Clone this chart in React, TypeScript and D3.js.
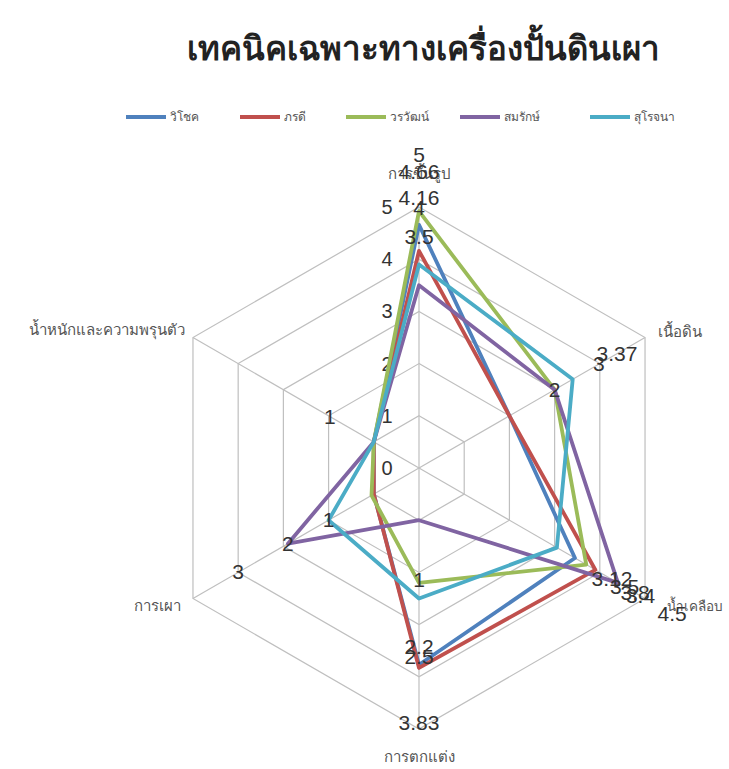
import React from "react";
import * as d3 from "d3";

const title = "เทคนิคเฉพาะทางเครื่องปั้นดินเผา";
const categories = ["การขึ้นรูป", "เนื้อดิน", "น้ำเคลือบ", "การตกแต่ง", "การเผา", "น้ำหนักและความพรุนตัว"];
const seriesNames = ["วิโชค", "ภรดี", "วรวัฒน์", "สมรักษ์", "สุโรจนา"];
const seriesColors = ["#4F81BD", "#C0504D", "#9BBB59", "#8064A2", "#4BACC6"];
const wichok = [4.66, 2, 3.45, 3.77, 1, 1];
const phoradee = [4.16, 2, 3.9, 3.83, 1, 1];
const worawat = [4.92, 3, 3.7, 2.2, 1.05, 1];
const somrak = [3.5, 3, 4.4, 1, 2.9, 1];
const surojana = [3.9, 3.4, 3.05, 2.5, 2, 1];
const seriesValues = [wichok, phoradee, worawat, somrak, surojana];
const tickValues = [0, 1, 2, 3, 4, 5];
// data labels as they appear: [axis index, radial position in value units, text]
const labelAxis = [0, 0, 0, 0, 0, 5, 1, 1, 1, 2, 2, 2, 2, 2, 3, 3, 3, 3, 4, 4, 4];
const labelPos = [6.0, 5.67, 5.17, 4.98, 4.42, 1.97, 4.38, 3.98, 3.0, 4.27, 4.55, 4.78, 4.9, 5.6, 2.15, 3.43, 3.62, 4.88, 2.0, 2.9, 4.0];
const labelText = ["5", "4.66", "4.16", "4", "3.5", "1", "3.37", "3", "2", "3.12", "3.5", "3.8", "3.4", "4.5", "1", "2.2", "2.5", "3.83", "1", "2", "3"];

const W = 729;
const H = 769;
const cx = 419;
const cy = 468;
const R = 261;

export default function App() {
  const r = d3.scaleLinear().domain([0, 5]).range([0, R]);
  const n = categories.length;
  const ang = (i: number) => (i * 2 * Math.PI) / n;
  const pt = (i: number, v: number): [number, number] => [cx + r(v) * Math.sin(ang(i)), cy - r(v) * Math.cos(ang(i))];
  const line = d3.line<[number, number]>().curve(d3.curveLinearClosed);

  const catOffsets: [number, number, string][] = [
    [0, -28, "middle"],
    [13, -1, "start"],
    [22, 12, "start"],
    [0, 33, "middle"],
    [-12, 12, "end"],
    [-8, -3, "end"],
  ];
  const legendX = [126, 240, 346, 460, 590];

  return (
    <svg width={W} height={H} style={{ position: "absolute", left: 0, top: 0, background: "#fff" }}
      fontFamily="'Noto Sans', 'DejaVu Sans', sans-serif">
      <text x={423} y={60} textAnchor="middle" fontSize={33} fontWeight="bold" fill="#222">{title}</text>
      {seriesNames.map((s, k) => (
        <g key={s}>
          <line x1={legendX[k]} x2={legendX[k] + 40} y1={117} y2={117} stroke={seriesColors[k]} strokeWidth={3.8} />
          <text x={legendX[k] + 44} y={121} fontSize={12} fill="#555">{s}</text>
        </g>
      ))}
      {tickValues.slice(1).map((t) => (
        <path key={t} d={line(d3.range(n).map((i) => pt(i, t))) || ""} fill="none" stroke="#BFBFBF" strokeWidth={1.2} />
      ))}
      {d3.range(n).map((i) => {
        const [x, y] = pt(i, 5);
        return <line key={i} x1={cx} y1={cy} x2={x} y2={y} stroke="#BFBFBF" strokeWidth={1.2} />;
      })}
      {tickValues.map((t) => {
        const [x, y] = pt(0, t);
        return <text key={t} x={x - 32} y={y + 7} textAnchor="middle" fontSize={20} fill="#333" fontFamily="'Liberation Sans', sans-serif">{t}</text>;
      })}
      {seriesValues.map((vals, k) => (
        <path key={k} d={line(vals.map((v, i) => pt(i, v))) || ""} fill="none" stroke={seriesColors[k]} strokeWidth={3.8} strokeLinejoin="round" />
      ))}
      {categories.map((c, i) => {
        const [x, y] = pt(i, 5);
        const [dx, dy, anchor] = catOffsets[i];
        return <text key={c} x={x + dx} y={y + dy} textAnchor={anchor as any} fontSize={i === 2 ? 13.5 : 15} fill="#555">{c}</text>;
      })}
      {labelText.map((t, j) => {
        const [x, y] = pt(labelAxis[j], labelPos[j]);
        return <text key={j} x={x} y={y + 7} textAnchor="middle" fontSize={21} fill="#333" fontFamily="'Liberation Sans', sans-serif">{t}</text>;
      })}
    </svg>
  );
}
